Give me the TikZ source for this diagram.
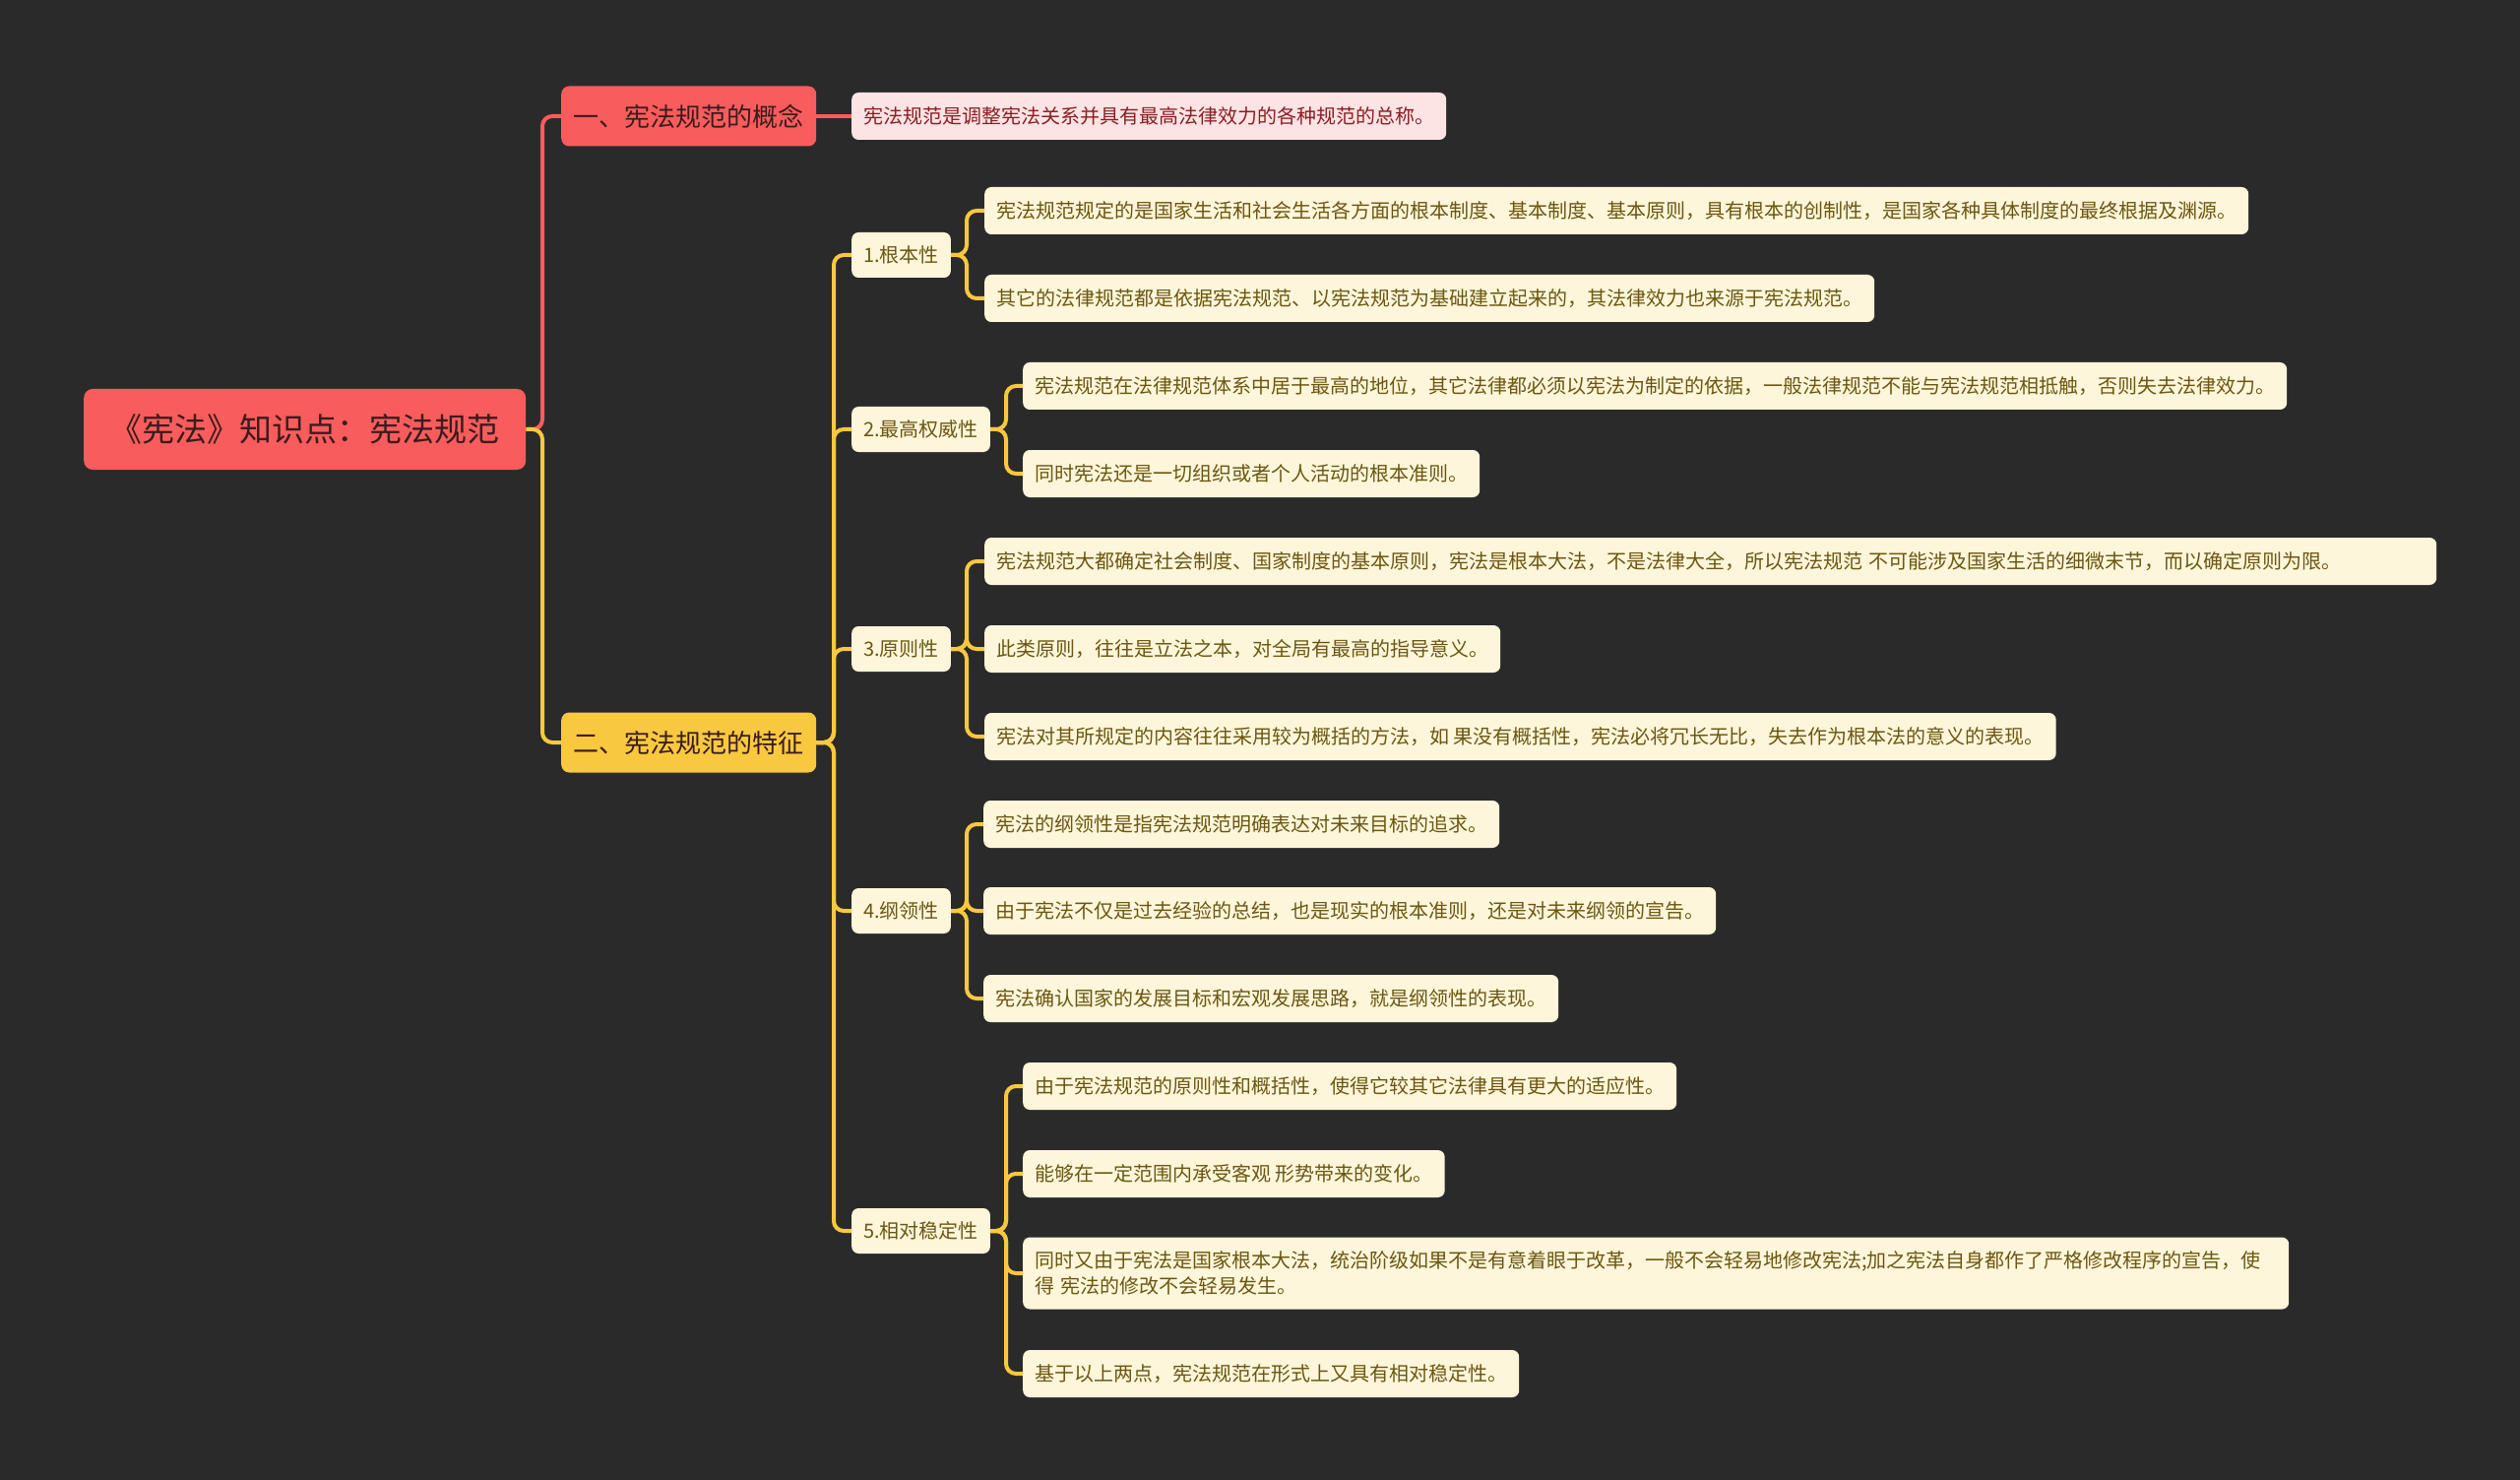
\documentclass[tikz,border=0pt]{standalone}
\usepackage{fontspec}
\setmainfont{Noto Sans CJK SC}
\definecolor{bg}{HTML}{2A2A2A}
\definecolor{redc}{HTML}{F95C5C}
\definecolor{yel}{HTML}{F8C83F}
\definecolor{cream}{HTML}{FEF6DA}
\definecolor{pinkc}{HTML}{FDE4E4}
\definecolor{olive}{HTML}{6B5712}
\definecolor{darkred}{HTML}{8A1E24}
\definecolor{roottext}{HTML}{3A1C1C}
\begin{document}
\begin{tikzpicture}[x=1pt,y=-1pt,
 box/.style={anchor=west, rounded corners=7pt, inner xsep=12pt, inner ysep=0pt, align=left, yshift=-2pt},
 rootbox/.style={box, fill=redc, text=roottext, font=\fontsize{33}{40}\selectfont, minimum height=82pt, minimum width=449pt, rounded corners=9pt, align=center},
 catred/.style={box, fill=redc, text=roottext, font=\fontsize{26}{32}\selectfont, minimum height=61pt, minimum width=259pt, rounded corners=8pt, align=center},
 catyel/.style={catred, fill=yel},
 sub/.style={box, fill=cream, text=olive, font=\fontsize{20}{24}\selectfont, minimum height=46pt},
 leaf/.style={box, fill=cream, text=olive, font=\fontsize{20}{26}\selectfont, minimum height=48pt},
 pinkleaf/.style={leaf, fill=pinkc, text=darkred},
 lr/.style={draw=redc, line width=4pt, rounded corners=10pt},
 ly/.style={draw=yel, line width=4pt, rounded corners=10pt}
]
\fill[bg] (0,0) rectangle (2560,1503);
\useasboundingbox (0,0) rectangle (2560,1503);

% spine positions
\coordinate (sp0) at (551,0);
\coordinate (sp1) at (847,0);
\coordinate (spa) at (982,0);
\coordinate (spb) at (1022,0);

% nodes
\node[rootbox] (root) at (85,434) {《宪法》知识点：宪法规范};
\node[catred] (c1) at (570,116) {一、宪法规范的概念};
\node[pinkleaf] (c1a) at (865,116) {宪法规范是调整宪法关系并具有最高法律效力的各种规范的总称。};
\node[catyel] (c2) at (570,752) {二、宪法规范的特征};

\node[sub] (s1) at (865,257) {1.根本性};
\node[leaf] (s1a) at (1000,212) {宪法规范规定的是国家生活和社会生活各方面的根本制度、基本制度、基本原则，具有根本的创制性，是国家各种具体制度的最终根据及渊源。};
\node[leaf] (s1b) at (1000,301) {其它的法律规范都是依据宪法规范、以宪法规范为基础建立起来的，其法律效力也来源于宪法规范。};

\node[sub] (s2) at (865,434) {2.最高权威性};
\node[leaf] (s2a) at (1039,390) {宪法规范在法律规范体系中居于最高的地位，其它法律都必须以宪法为制定的依据，一般法律规范不能与宪法规范相抵触，否则失去法律效力。};
\node[leaf] (s2b) at (1039,479) {同时宪法还是一切组织或者个人活动的根本准则。};

\node[sub] (s3) at (865,657) {3.原则性};
\node[leaf, text width=1451pt] (s3a) at (1000,568) {宪法规范大都确定社会制度、国家制度的基本原则，宪法是根本大法，不是法律大全，所以宪法规范 不可能涉及国家生活的细微末节，而以确定原则为限。};
\node[leaf] (s3b) at (1000,657) {此类原则，往往是立法之本，对全局有最高的指导意义。};
\node[leaf] (s3c) at (1000,746) {宪法对其所规定的内容往往采用较为概括的方法，如 果没有概括性，宪法必将冗长无比，失去作为根本法的意义的表现。};

\node[sub] (s4) at (865,923) {4.纲领性};
\node[leaf] (s4a) at (999,835) {宪法的纲领性是指宪法规范明确表达对未来目标的追求。};
\node[leaf] (s4b) at (999,923) {由于宪法不仅是过去经验的总结，也是现实的根本准则，还是对未来纲领的宣告。};
\node[leaf] (s4c) at (999,1012) {宪法确认国家的发展目标和宏观发展思路，就是纲领性的表现。};

\node[sub] (s5) at (865,1248) {5.相对稳定性};
\node[leaf] (s5a) at (1039,1101) {由于宪法规范的原则性和概括性，使得它较其它法律具有更大的适应性。};
\node[leaf] (s5b) at (1039,1190) {能够在一定范围内承受客观 形势带来的变化。};
\node[leaf, minimum height=73pt, text width=1262pt] (s5c) at (1039,1291) {同时又由于宪法是国家根本大法，统治阶级如果不是有意着眼于改革，一般不会轻易地修改宪法;加之宪法自身都作了严格修改程序的宣告，使\\得 宪法的修改不会轻易发生。};
\node[leaf] (s5d) at (1039,1393) {基于以上两点，宪法规范在形式上又具有相对稳定性。};

% connectors
\draw[lr] (root.east) -- (root.east -| sp0) |- (c1.west);
\draw[lr] (c1.east) -- (c1a.west);
\draw[ly] (root.east) -- (root.east -| sp0) |- (c2.west);

\foreach \s in {s1,s2,s3,s4,s5} {
  \draw[ly] (c2.east) -- (c2.east -| sp1) |- (\s.west);
}
\foreach \t in {s1a,s1b} { \draw[ly] (s1.east) -- (s1.east -| spa) |- (\t.west); }
\foreach \t in {s2a,s2b} { \draw[ly] (s2.east) -- (s2.east -| spb) |- (\t.west); }
\foreach \t in {s3a,s3b,s3c} { \draw[ly] (s3.east) -- (s3.east -| spa) |- (\t.west); }
\foreach \t in {s4a,s4b,s4c} { \draw[ly] (s4.east) -- (s4.east -| spa) |- (\t.west); }
\foreach \t in {s5a,s5b,s5c,s5d} { \draw[ly] (s5.east) -- (s5.east -| spb) |- (\t.west); }
\end{tikzpicture}
\end{document}
